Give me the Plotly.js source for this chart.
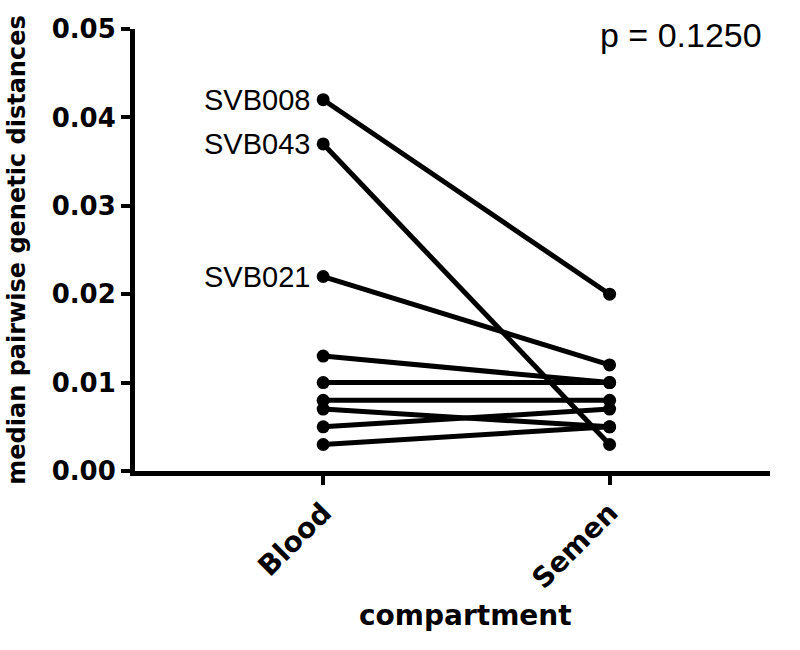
<!DOCTYPE html>
<html>
<head>
<meta charset="utf-8">
<script src="https://cdn.plot.ly/plotly-3.0.1.min.js"></script>
<style>
  body { margin: 0; background: #fff; }
  #plot { width: 800px; height: 650px; }
</style>
</head>
<body>
<div id="plot"></div>
<script>
// categories on the x axis
const compartments = ['Blood', 'Semen'];

// one entry per subject (only three are labelled in the figure)
const subjectLabels = ['SVB008', 'SVB043', 'SVB021', '', '', '', '', '', ''];
const bloodValues = [0.042, 0.037, 0.022, 0.013, 0.010, 0.008, 0.007, 0.005, 0.003];
const semenValues = [0.020, 0.003, 0.012, 0.010, 0.010, 0.008, 0.005, 0.007, 0.005];

const pValueText = 'p = 0.1250';
const xTitleText = 'compartment';

const boldFont = 'DejaVu Sans, Arial, sans-serif';
const plainFont = 'Liberation Sans, Arial, sans-serif';

// build a line for every subject
const traces = bloodValues.map(function(b, i) {
  return {
    x: compartments,
    y: [b, semenValues[i]],
    type: 'scatter',
    mode: 'lines+markers',
    line: { color: '#000', width: 5 },
    marker: { color: '#000', size: 13 },
    hoverinfo: 'none',
    cliponaxis: false
  };
});

// subject names written left of their blood value
const labelNotes = [];
subjectLabels.forEach(function(lab, i) {
  if (!lab) return;
  labelNotes.push({
    text: lab,
    x: compartments[0],
    y: bloodValues[i],
    xref: 'x',
    yref: 'y',
    xanchor: 'right',
    yanchor: 'middle',
    xshift: -11,
    showarrow: false,
    font: { family: plainFont, size: 29, color: '#000' }
  });
});

const layout = {
  width: 800,
  height: 650,
  margin: { l: 135, r: 30, t: 29, b: 179 },
  paper_bgcolor: '#fff',
  plot_bgcolor: '#fff',
  showlegend: false,
  font: { family: boldFont, color: '#000' },
  xaxis: {
    type: 'category',
    range: [-0.657, 1.56],
    showgrid: false,
    zeroline: false,
    showline: true,
    linecolor: '#000',
    linewidth: 5,
    ticks: 'outside',
    ticklen: 9,
    tickwidth: 4,
    tickcolor: '#000',
    tickangle: -45,
    tickfont: { family: boldFont, size: 28, color: '#000', weight: 'bold' }
  },
  yaxis: {
    range: [0, 0.05],
    dtick: 0.01,
    tickformat: '.2f',
    showgrid: false,
    zeroline: false,
    showline: true,
    linecolor: '#000',
    linewidth: 5,
    ticks: 'outside',
    ticklen: 9,
    tickwidth: 4,
    tickcolor: '#000',
    tickfont: { family: boldFont, size: 26, color: '#000', weight: 'bold' },
    title: {
      text: 'median pairwise genetic distances',
      font: { family: boldFont, size: 24, color: '#000', weight: 'bold' },
      standoff: 21
    }
  },
  annotations: labelNotes.concat([{
    text: pValueText,
    xref: 'paper',
    yref: 'paper',
    x: 0.99,
    y: 0.986,
    xanchor: 'right',
    yanchor: 'middle',
    showarrow: false,
    font: { family: plainFont, size: 34, color: '#000' }
  }, {
    // x axis title, placed by hand under the slanted labels
    text: xTitleText,
    xref: 'paper',
    yref: 'paper',
    x: 0.52,
    y: -0.326,
    xanchor: 'center',
    yanchor: 'middle',
    showarrow: false,
    font: { family: boldFont, size: 28, color: '#000', weight: 'bold' }
  }])
};

Plotly.newPlot('plot', traces, layout, { displayModeBar: false, staticPlot: true });
</script>
</body>
</html>
